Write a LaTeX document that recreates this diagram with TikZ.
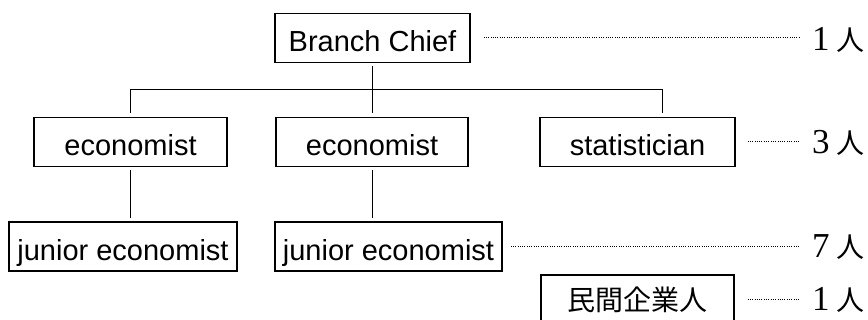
\documentclass[tikz,border=0pt]{standalone}
\usepackage{fontspec}
\setmainfont{Liberation Sans}
\newfontfamily\cjkfont{Noto Sans CJK JP}
\newfontfamily\numfont{Liberation Serif}
\begin{document}
\begin{tikzpicture}[x=1pt,y=1pt,
  box/.style={draw, line width=1.3pt, minimum height=49pt, inner sep=0pt,
    text height=28pt, text depth=0pt, font=\fontsize{29}{34}\selectfont},
  link/.style={line width=1pt},
  dotline/.style={line width=1pt, dash pattern=on 1pt off 1.3pt},
  count/.style={anchor=west, inner sep=0pt, font=\fontsize{28}{32}\selectfont},
  digit/.style={}]
\clip (0,0) rectangle (868,320);

% organisation boxes
\node[box, minimum width=195pt] (chief) at (372.5,282) {Branch Chief};
\node[box, minimum width=193pt] (econA) at (130.5,178) {economist};
\node[box, minimum width=192pt] (econB) at (372,178) {economist};
\node[box, minimum width=195pt] (stat) at (637.5,178) {statistician};
\node[box, minimum width=228pt] (junA) at (123,73.5) {junior economist};
\node[box, minimum width=227pt] (junB) at (388.5,73.5) {junior economist};
\node[box, minimum width=193pt, minimum height=50pt, text height=24.5pt, text depth=3.5pt,
  font=\cjkfont\fontsize{28}{32}\selectfont] (priv) at (637.5,20) {民間企業人};

% head counts
\newcommand\headcount[1]{{\numfont\fontsize{35}{40}\selectfont #1}\hspace{7pt}{\cjkfont 人}}
\node[count] (cTop) at (812,280) {\headcount{1}};
\node[count] (cMid) at (812,177) {\headcount{3}};
\node[count] (cJun) at (812,73) {\headcount{7}};
\node[count] (cPriv) at (812,20) {\headcount{1}};

% reporting lines
\draw[link, shorten <=3pt, shorten >=4pt] (chief.south) -- (chief.south |- econB.north);
\draw[link] ([yshift=4pt]econA.north) -- ++(0,23.5) -| ([xshift=24.5pt,yshift=4pt]stat.north);
\draw[link, shorten <=3pt, shorten >=3pt] (econA.south) -- (econA.south |- junA.north);
\draw[link, shorten <=3pt, shorten >=3pt] (econB.south) -- (econB.south |- junB.north);

% dotted leaders to the counts
\draw[dotline] ([xshift=13pt]chief.east) -- ([xshift=-12pt]chief.east -| cTop.west);
\draw[dotline] ([xshift=12pt]stat.east) -- ([xshift=-12pt]stat.east -| cMid.west);
\draw[dotline] ([xshift=8pt]junB.east) -- ([xshift=-12pt]junB.east -| cJun.west);
\draw[dotline] ([xshift=13pt]priv.east) -- ([xshift=-12pt]priv.east -| cPriv.west);
\end{tikzpicture}
\end{document}
